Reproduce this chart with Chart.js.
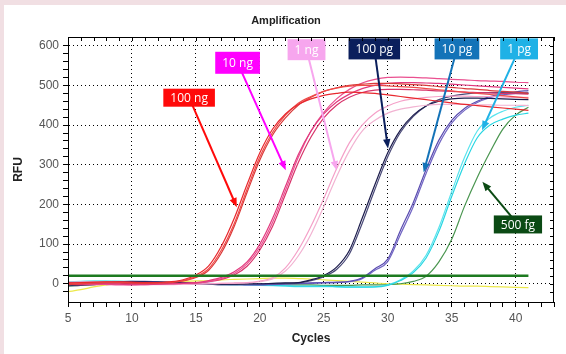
<!DOCTYPE html>
<html>
<head>
<meta charset="utf-8">
<script src="https://cdn.jsdelivr.net/npm/chart.js@4.4.1/dist/chart.umd.min.js"></script>
<style>
    html, body { margin: 0; padding: 0; background: #f1dfe3; }
    #box { width: 566px; height: 354px; }
</style>
</head>
<body>
<div id="box"><canvas id="ampChart" width="566" height="354"></canvas></div>
<script>
// cycle numbers shown on the x axis
const cycles = [5, 6, 7, 8, 9, 10, 11, 12, 13, 14, 15, 16, 17, 18, 19, 20, 21, 22, 23, 24, 25, 26, 27, 28, 29, 30, 31, 32, 33, 34, 35, 36, 37, 38, 39, 40, 41];

// RFU per cycle (replicates per dilution)
const ng100A = [2, 3, 4, 5, 5, 4, 3, 3, 5, 10, 22, 45, 95, 165, 250, 330, 390, 428, 452, 466, 475, 480, 483, 482, 480, 476, 472, 468, 464, 460, 456, 452, 449, 446, 443, 440, 437];
const ng100B = [0, 1, 3, 4, 4, 3, 2, 2, 4, 8, 18, 38, 85, 152, 238, 320, 382, 425, 455, 472, 485, 493, 498, 500, 500, 499, 497, 495, 492, 489, 486, 483, 480, 477, 474, 471, 468];
const ng100C = [-2, 0, 2, 3, 3, 2, 1, 2, 3, 7, 16, 34, 78, 145, 230, 312, 375, 418, 450, 470, 485, 494, 500, 503, 505, 505, 504, 502, 500, 497, 495, 492, 490, 487, 485, 483, 480];

const ng10A = [3, 2, 1, 0, -1, -2, -2, -1, 0, 1, 3, 8, 16, 30, 55, 100, 165, 245, 325, 385, 428, 458, 478, 492, 500, 505, 507, 507, 506, 505, 503, 501, 499, 497, 495, 493, 491];
const ng10B = [1, 0, -1, -2, -3, -3, -2, -1, 0, 1, 2, 6, 13, 26, 50, 92, 155, 235, 318, 385, 432, 466, 490, 506, 515, 520, 521, 520, 519, 517, 515, 514, 512, 511, 510, 508, 507];
const ng10C = [-1, -2, -2, -1, 0, 1, 1, 0, 0, 1, 2, 5, 11, 22, 44, 85, 145, 225, 305, 370, 418, 450, 470, 482, 488, 490, 490, 489, 488, 486, 485, 483, 482, 481, 480, 479, 478];

const ng1A = [4, 5, 5, 4, 3, 2, 1, 0, 0, -1, -1, 0, 1, 2, 3, 7, 15, 40, 85, 145, 215, 290, 355, 400, 430, 448, 460, 466, 470, 472, 473, 473, 472, 472, 471, 470, 470];
const ng1B = [0, 1, 2, 2, 1, 0, -1, -2, -2, -1, 0, 0, 1, 1, 2, 5, 12, 32, 70, 125, 195, 270, 335, 385, 412, 430, 440, 446, 450, 452, 452, 452, 451, 451, 450, 450, 449];

const pg100A = [-3, -2, 0, 2, 4, 5, 5, 4, 3, 2, 1, 0, -1, -1, 0, 0, 1, 2, 3, 10, 21, 42, 84, 165, 250, 330, 388, 425, 448, 460, 466, 468, 468, 467, 466, 465, 464];
const pg100B = [-5, -4, -2, 0, 2, 3, 3, 3, 2, 1, 0, -1, -2, -2, -1, 0, 0, 1, 2, 8, 18, 36, 75, 152, 238, 320, 382, 422, 448, 464, 473, 478, 481, 482, 482, 481, 480];

const pg10A = [1, 2, 3, 4, 5, 6, 6, 5, 4, 3, 2, 1, 0, -1, -2, -2, -1, 0, 1, 2, 3, 4, 6, 15, 38, 62, 135, 205, 288, 362, 412, 442, 460, 472, 479, 484, 487];
const pg10B = [-1, 0, 1, 2, 3, 4, 4, 3, 2, 1, 0, -1, -2, -2, -3, -3, -2, -1, 0, 1, 2, 3, 5, 13, 34, 56, 125, 195, 278, 352, 405, 437, 457, 469, 476, 480, 482];

const pg1A = [2, 3, 4, 5, 6, 6, 5, 4, 3, 2, 1, 0, -1, -1, -2, -3, -4, -5, -6, -6, -6, -7, -8, -8, -8, -4, 8, 28, 65, 132, 220, 302, 368, 400, 415, 425, 430];
const pg1B = [5, 6, 7, 7, 6, 5, 4, 3, 2, 1, 0, -1, -2, -3, -3, -4, -5, -6, -7, -7, -7, -8, -9, -9, -8, -3, 10, 32, 72, 142, 232, 318, 385, 418, 435, 445, 450];

const fg500 = [-6, -4, -2, 0, 2, 3, 4, 4, 3, 2, 1, 0, 0, -1, -1, -2, -2, -3, -3, -3, -4, -4, -4, -3, -3, -2, 0, 6, 19, 55, 112, 195, 268, 332, 390, 425, 445];

const negative = [-20, -15, -8, -3, 0, 2, 3, 4, 5, 6, 7, 8, 10, 11, 12, 13, 14, 14, 13, 12, 10, 8, 6, 4, 2, 0, -1, -2, -3, -4, -5, -6, -6, -7, -8, -9, -10];

const threshold = 20;

// axis labels
const yLabels = [0, 100, 200, 300, 400, 500, 600];
const xLabels = [5, 10, 15, 20, 25, 30, 35, 40];

// callout boxes: text, box centre and arrow tip in data units
const callouts = [
    { text: "100 ng", color: "#ff0a0a", bx: 14.47, by: 469, tx: 18.2, ty: 193, h: 18 },
    { text: "10 ng", color: "#ff00ff", bx: 18.26, by: 557, tx: 22.03, ty: 286, h: 22 },
    { text: "1 ng", color: "#f7a6ee", bx: 23.65, by: 590, tx: 26.0, ty: 286, h: 21 },
    { text: "100 pg", color: "#0b1f5c", bx: 28.95, by: 592, tx: 30.02, ty: 341, h: 21 },
    { text: "10 pg", color: "#1473b8", bx: 35.41, by: 592, tx: 32.81, ty: 281, h: 21 },
    { text: "1 pg", color: "#1fb1e6", bx: 40.27, by: 592, tx: 37.37, ty: 387, h: 21 },
    { text: "500 fg", color: "#0b4a14", bx: 40.18, by: 149.5, tx: 37.4, ty: 257, h: 18 }
];

function series(values) {
    return values.map((v, i) => ({ x: cycles[i], y: v }));
}

function curve(values, color) {
    return {
        data: series(values),
        borderColor: color,
        borderWidth: 1.2,
        pointRadius: 0,
        cubicInterpolationMode: "monotone",
        fill: false
    };
}

// tick values can come back as floats, snap them before comparing
function whole(v) {
    const r = Math.round(v);
    return Math.abs(v - r) < 1e-6 ? r : null;
}

const datasets = [
    {
        data: [{ x: cycles[0], y: threshold }, { x: cycles[cycles.length - 1], y: threshold }],
        borderColor: "#1d7a20",
        borderWidth: 2.5,
        pointRadius: 0,
        fill: false
    },
    curve(ng100A, "#e8282e"),
    curve(ng100B, "#ef4a48"),
    curve(ng100C, "#d93a3a"),
    curve(ng10A, "#e23a7e"),
    curve(ng10B, "#ea5090"),
    curve(ng10C, "#d8336a"),
    curve(ng1A, "#f5a0c8"),
    curve(ng1B, "#f2b3d2"),
    curve(pg100A, "#1c1c4c"),
    curve(pg100B, "#4a4a78"),
    curve(pg10A, "#5a4cb0"),
    curve(pg10B, "#7266c4"),
    curve(pg1A, "#28d6e2"),
    curve(pg1B, "#5ae4ee"),
    curve(fg500, "#4a9650"),
    curve(negative, "#ece84a")
];

function drawArrow(ctx, x1, y1, x2, y2, color) {
    const ang = Math.atan2(y2 - y1, x2 - x1);
    const head = 10;
    ctx.strokeStyle = color;
    ctx.lineWidth = 2;
    ctx.beginPath();
    ctx.moveTo(x1, y1);
    ctx.lineTo(x2 - Math.cos(ang) * head * 0.7, y2 - Math.sin(ang) * head * 0.7);
    ctx.stroke();
    ctx.fillStyle = color;
    ctx.beginPath();
    ctx.moveTo(x2, y2);
    ctx.lineTo(x2 - head * Math.cos(ang - 0.38), y2 - head * Math.sin(ang - 0.38));
    ctx.lineTo(x2 - head * Math.cos(ang + 0.38), y2 - head * Math.sin(ang + 0.38));
    ctx.closePath();
    ctx.fill();
}

const framePlugin = {
    id: "frame",
    beforeDraw(chart) {
        const ctx = chart.ctx;
        ctx.save();
        ctx.fillStyle = "#f1dfe3";
        ctx.fillRect(0, 0, chart.width, chart.height);
        ctx.fillStyle = "#ffffff";
        ctx.fillRect(4, 5, chart.width - 4, chart.height - 5);
        ctx.fillStyle = "#222";
        ctx.font = 'bold 11px "Liberation Sans", Arial, sans-serif';
        ctx.textAlign = "center";
        ctx.textBaseline = "middle";
        ctx.fillText("Amplification", chart.width / 2 + 3, 21);
        ctx.restore();
    },
    afterDatasetsDraw(chart) {
        const ctx = chart.ctx;
        const xs = chart.scales.x, ys = chart.scales.y;
        ctx.save();
        ctx.font = '12px "Open Sans", sans-serif';
        ctx.textAlign = "center";
        ctx.textBaseline = "middle";
        callouts.forEach(c => {
            const bx = xs.getPixelForValue(c.bx), by = ys.getPixelForValue(c.by);
            const tx = xs.getPixelForValue(c.tx), ty = ys.getPixelForValue(c.ty);
            drawArrow(ctx, bx, by, tx, ty, c.color);
            const w = ctx.measureText(c.text).width + 14;
            ctx.fillStyle = c.color;
            ctx.fillRect(bx - w / 2, by - c.h / 2, w, c.h);
            ctx.fillStyle = "#ffffff";
            ctx.fillText(c.text, bx, by + 1);
        });
        ctx.restore();
    },
    afterDraw(chart) {
        const ctx = chart.ctx;
        const a = chart.chartArea;
        const xs = chart.scales.x, ys = chart.scales.y;
        ctx.save();
        ctx.strokeStyle = "#000";
        ctx.lineWidth = 1;
        ctx.strokeRect(a.left + 0.5, a.top + 0.5, a.right - a.left - 1, a.bottom - a.top);
        // small inward ticks on top and right borders
        ctx.beginPath();
        xs.ticks.forEach(t => {
            if (whole(t.value) === null) return;
            const px = Math.round(xs.getPixelForValue(t.value)) + 0.5;
            ctx.moveTo(px, a.top);
            ctx.lineTo(px, a.top + 4);
        });
        ys.ticks.forEach(t => {
            const v = whole(t.value);
            if (v === null || v % 20 !== 0) return;
            const py = Math.round(ys.getPixelForValue(t.value)) + 0.5;
            ctx.moveTo(a.right, py);
            ctx.lineTo(a.right - 4, py);
        });
        ctx.stroke();
        ctx.restore();
    }
};

const tickFont = { family: '"Liberation Sans", Arial, sans-serif', size: 12 };
const titleFont = { family: '"Liberation Sans", Arial, sans-serif', size: 12, weight: "bold" };

new Chart(document.getElementById("ampChart"), {
    type: "line",
    data: { datasets: datasets },
    options: {
        responsive: false,
        animation: false,
        layout: { padding: { left: 0, right: 12, top: 37, bottom: 0 } },
        plugins: {
            legend: { display: false },
            tooltip: { enabled: false }
        },
        scales: {
            x: {
                type: "linear",
                min: 5,
                max: 43,
                afterFit: s => { s.height = 52; },
                ticks: {
                    stepSize: 1,
                    autoSkip: false,
                    maxRotation: 0,
                    padding: 4,
                    color: "#555",
                    font: tickFont,
                    callback: v => xLabels.includes(whole(v)) ? whole(v) : ""
                },
                grid: {
                    color: c => (c.tick && whole(c.tick.value) !== null && whole(c.tick.value) % 5 === 0) ? "#000" : "transparent",
                    tickColor: c => (c.tick && whole(c.tick.value) !== null) ? "#000" : "transparent",
                    tickLength: 5,
                    lineWidth: 1
                },
                border: { color: "#000", width: 1, dash: [1, 3] },
                title: { display: true, text: "Cycles", color: "#222", font: titleFont, padding: { top: 0, bottom: 8 } }
            },
            y: {
                min: -46,
                max: 622,
                afterFit: s => { s.width = 68; },
                ticks: {
                    stepSize: 20,
                    autoSkip: false,
                    padding: 4,
                    color: "#555",
                    font: tickFont,
                    callback: v => yLabels.includes(whole(v)) ? whole(v) : ""
                },
                grid: {
                    color: c => (c.tick && yLabels.includes(whole(c.tick.value))) ? "#000" : "transparent",
                    tickColor: c => {
                        const v = c.tick ? whole(c.tick.value) : null;
                        return (v !== null && v % 20 === 0) ? "#000" : "transparent";
                    },
                    tickLength: 5,
                    lineWidth: 1
                },
                border: { color: "#000", width: 1, dash: [1, 3] },
                title: { display: true, text: "RFU", color: "#222", font: titleFont, padding: { top: 11, bottom: 0 } }
            }
        }
    },
    plugins: [framePlugin]
});
</script>
</body>
</html>
